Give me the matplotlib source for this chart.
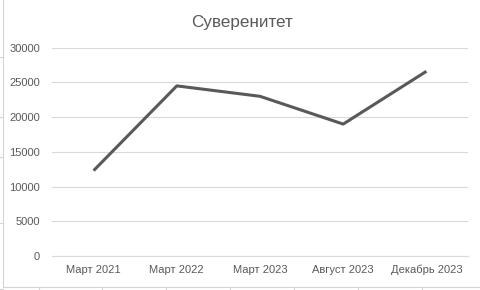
import matplotlib
matplotlib.use("Agg")
import matplotlib.pyplot as plt
from matplotlib.lines import Line2D

plt.rcParams["font.family"] = ["Liberation Sans", "DejaVu Sans"]

categories = ["Март 2021", "Март 2022", "Март 2023", "Август 2023", "Декабрь 2023"]
values = [12300, 24500, 23000, 19000, 26600]
y_ticks = [0, 5000, 10000, 15000, 20000, 25000, 30000]

text_color = "#595959"
grid_color = "#d9d9d9"

W, H = 480, 290
fig = plt.figure(figsize=(W / 100, H / 100), dpi=100)
ax = fig.add_axes([52 / W, 34 / H, 416 / W, 208.3 / H])

x = list(range(len(categories)))
ax.plot(x, values, color=text_color, linewidth=2.2, solid_capstyle="butt", zorder=3)

ax.set_xlim(-0.5, len(categories) - 0.5)
ax.set_ylim(0, 30000)
ax.set_yticks(y_ticks)
ax.set_yticklabels([str(v) for v in y_ticks])
ax.set_xticks(x)
ax.set_xticklabels(categories)

ax.grid(axis="y", color=grid_color, linewidth=0.8)
ax.set_axisbelow(True)
for side in ["top", "right", "left"]:
    ax.spines[side].set_visible(False)
ax.spines["bottom"].set_color(grid_color)
ax.spines["bottom"].set_linewidth(0.8)
ax.tick_params(axis="both", length=0, colors=text_color, labelsize=8)
ax.tick_params(axis="y", pad=8.5)
ax.tick_params(axis="x", pad=6.5)

fig.text(242 / W, 1 - 23 / H, "Суверенитет", ha="center", va="center",
         fontsize=12.3, color=text_color)

# spreadsheet cell borders visible around the chart
border = "#d4d4d4"
fig.add_artist(Line2D([3 / W, 3 / W], [1 - 287 / H, 1], color=border, lw=0.8))
fig.add_artist(Line2D([3 / W, 1], [1 - 287 / H, 1 - 287 / H], color=border, lw=0.8))
for yy in [57, 117, 157, 223, 289]:
    fig.add_artist(Line2D([0, 3 / W], [1 - yy / H, 1 - yy / H], color=border, lw=0.8))
for xx in [39, 102, 166, 230, 294, 358, 422]:
    fig.add_artist(Line2D([xx / W, xx / W], [0, 1 - 287 / H], color=border, lw=0.8))

fig.savefig("out.png", dpi=100)
